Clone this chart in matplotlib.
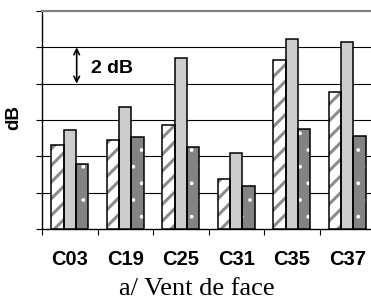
import numpy as np
import matplotlib as mpl
import matplotlib.pyplot as plt

categories = ['C03', 'C19', 'C25', 'C31', 'C35', 'C37']
serie_hachuree = [2.30, 2.45, 2.85, 1.37, 4.65, 3.77]
serie_claire = [2.73, 3.35, 4.72, 2.10, 5.23, 5.15]
serie_foncee = [1.80, 2.52, 2.25, 1.17, 2.75, 2.57]

fig = plt.figure(figsize=(3.71, 3.04), dpi=100)
ax = fig.add_axes([42 / 371, 75 / 304, 333 / 371, 218 / 304])

x = np.arange(len(categories)) + 0.5
w = 0.225
# (valeurs, decalage, fond, couleur hachure, hachure, epaisseur hachure)
styles = [
    (serie_hachuree, -w, 'white', '#8c8c8c', '//', 2.2),
    (serie_claire, 0.0, '#cdcdcd', '#cdcdcd', None, 1.0),
    (serie_foncee, w, '#838383', 'white', '.', 0.3),
]
for values, off, face, hcol, hatch, hlw in styles:
    with mpl.rc_context({'hatch.linewidth': hlw}):
        bars = ax.bar(x + off, values, w, color=face, edgecolor=hcol,
                      hatch=hatch, linewidth=0, zorder=3)
    for b in bars:
        if hasattr(b, 'set_hatch_linewidth'):
            b.set_hatch_linewidth(hlw)
    ax.bar(x + off, values, w, fill=False, edgecolor='black',
           linewidth=1.1, zorder=4)

ax.set_xlim(0, 6)
ax.set_ylim(0, 6)
for y in range(1, 6):
    ax.axhline(y, color='black', linewidth=0.8, zorder=1)

ax.spines['right'].set_visible(False)
ax.spines['top'].set_color('#808080')
ax.spines['top'].set_linewidth(1.6)
ax.spines['left'].set_linewidth(1.0)
ax.spines['bottom'].set_linewidth(1.0)

ax.set_yticks(range(0, 7))
ax.set_yticklabels([])
ax.tick_params(axis='y', direction='out', length=4.5, width=0.8)

ax.set_xticks(x)
ax.set_xticklabels(categories, fontsize=14.5, fontweight='bold',
                   family='Liberation Sans')
ax.set_xticks(np.arange(0, 7), minor=True)
ax.tick_params(axis='x', which='major', length=0, pad=15)
ax.tick_params(axis='x', which='minor', direction='out', length=4, width=0.8)

ax.annotate('', xy=(0.625, 5.0), xytext=(0.625, 4.0),
            arrowprops=dict(arrowstyle='<->', color='black', lw=1.2,
                            shrinkA=0, shrinkB=0))
ax.text(0.88, 4.43, '2 dB', fontsize=14, fontweight='bold',
        family='Liberation Sans', va='center', ha='left')

fig.text(14 / 371, 0.612, 'dB', rotation=90, fontsize=13.5, fontweight='bold',
         family='Liberation Sans', ha='center', va='center')
fig.text(197 / 371, 0.048, 'a/ Vent de face', fontsize=19,
         family='Liberation Serif', ha='center', va='center')

fig.savefig('out.png', dpi=100)
